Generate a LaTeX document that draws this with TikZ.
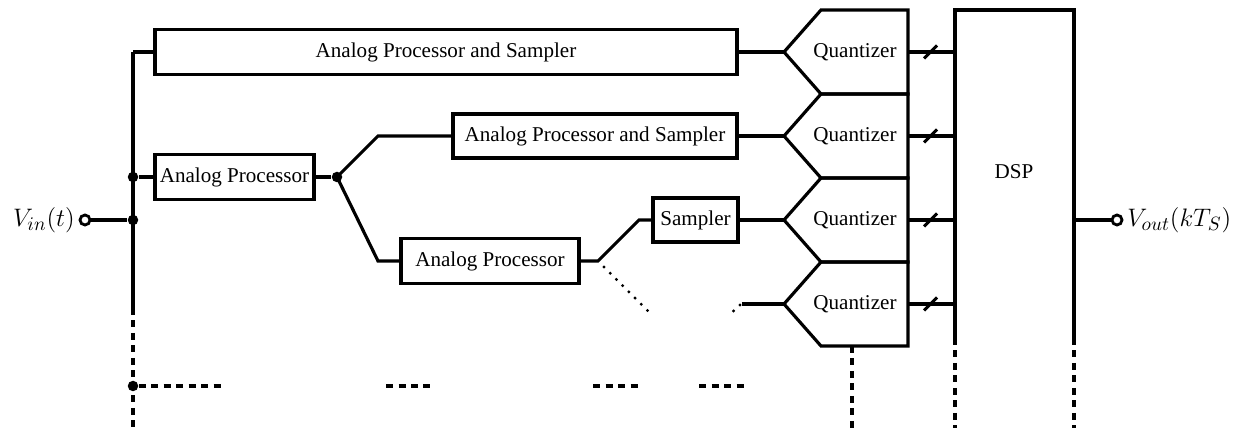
\documentclass[tikz,border=0pt]{standalone}
\usepackage{fontspec}
\setmainfont{Liberation Serif}
\usetikzlibrary{positioning}

\tikzset{
	wire/.style={line width=1.8pt},
	blk/.style={draw, line width=1.8pt, inner sep=0pt, minimum height=0.9cm, font=\fontsize{12}{14}\selectfont},
	lbl/.style={inner sep=0pt, font=\fontsize{12}{14}\selectfont},
	io/.style={inner sep=0pt, font=\fontsize{15.5}{18}\selectfont},
	busdash/.style={line width=1.8pt, dash pattern=on 1.4mm off 1.1mm},
	dotline/.style={line width=1.9pt, line cap=round, dash pattern=on 0pt off 5pt},
	dot/.style={circle, fill, inner sep=0pt, minimum size=2.1mm},
	term/.style={circle, draw, line width=1.6pt, fill=white, inner sep=0pt, minimum size=2mm},
}

\begin{document}
\begin{tikzpicture}[x=0.02cm, y=-0.02cm]
					\useasboundingbox (0,0) rectangle (1247,428);

					\coordinate (top) at (133,52);
					\coordinate (bot) at (133,308);
					\coordinate (end) at (133,428);
					\coordinate (b1) at (378,136);
					\coordinate (b2) at (378,261);
					\coordinate (b3) at (598,261);
					\coordinate (b4) at (639,220);
					\coordinate (dt1) at (604,267);
					\coordinate (dt2) at (653,316);
					\coordinate (dt3) at (728,316);
					\coordinate (dt4) at (740,305);
					\coordinate (stub) at (742,304);
					\coordinate (hd) at (222,386);
					\coordinate (dsptl) at (955,10);
					\coordinate (dsptr) at (1074,10);
					\coordinate (dspbl) at (955,338);
					\coordinate (dspbr) at (1074,338);
					\coordinate (dspo) at (1074,220);

					\node[blk, minimum width=11.64cm] (aps1) at (446,52) {Analog Processor and Sampler};
					\node[blk, minimum width=3.18cm] (ap1) at (234.5,177) {Analog Processor};
					\node[blk, minimum width=5.68cm, minimum height=0.88cm] (aps2) at (595,136) {Analog Processor and Sampler};
					\node[blk, minimum width=3.56cm] (ap2) at (490,261) {Analog Processor};
					\node[blk, minimum width=1.7cm, minimum height=0.88cm] (smp) at (695.5,220) {Sampler};

					\foreach \i/\y in {1/52, 2/136, 3/220, 4/304}{
							\draw[wire] (821,\y-42) -- (908,\y-42) -- (908,\y+42) -- (821,\y+42) -- (784,\y) -- cycle;
							\node[lbl] (q\i) at (855,\y) {Quantizer};
							\coordinate (qin\i) at (784,\y);
							\coordinate (qout\i) at (908,\y);
							\coordinate (dsp\i) at (955,\y);
							\draw[wire] (qout\i) -- (dsp\i);
							\draw[wire] (924,\y+6.5) -- (937,\y-6.5);
						}

					\node[lbl] (dsp) at (1014,172) {DSP};
					\draw[wire] (dspbl) -- (dsptl) -- (dsptr) -- (dspbr);

					\draw[wire] (top) -- (bot);
					\draw[wire] (top) -- (aps1.west);
					\draw[wire] (aps1.east) -- (qin1);

					\node[term] (vin) at (85,220) {};
					\node[io, left=2pt of vin] (vinlbl) {$V_{in}(t)$};
					\node[dot] (d1) at (133,220) {};
					\node[dot] (d2) at (133,177) {};
					\node[dot] (d3) at (337,177) {};
					\node[dot] (d4) at (133,386) {};
					\draw[wire] (vin) -- (d1);

					\draw[wire] (d2) -- (ap1);
					\draw[wire] (ap1) -- (d3);
					\draw[wire] (d3.center) -- (b1) -- (aps2.west);
					\draw[wire] (aps2.east) -- (qin2);
					\draw[wire] (d3.center) -- (b2) -- (ap2.west);
					\draw[wire] (ap2.east) -- (b3) -- (b4) -- (smp.west);
					\draw[wire] (smp.east) -- (qin3);
					\draw[wire] (stub) -- (qin4);
					\draw[dotline] (dt1) -- (dt2);
					\draw[dotline] (dt4) -- (dt3);

					\node[term] (vout) at (1117,220) {};
					\node[io, right=2pt of vout] (voutlbl) {$V_{out}(kT_S)$};
					\draw[wire] (dspo) -- (vout);

					\draw[busdash] (bot) -- (end);
					\draw[busdash] (d4) -- (hd);
					\foreach \a/\b in {386/432, 593/638, 699/745}{
							\draw[busdash] (\a,386) -- (\b,386);
						}
					\draw[busdash] (852,346) -- (852,428);
					\draw[busdash] (dspbl) -- (955,428);
					\draw[busdash] (dspbr) -- (1074,428);
				\end{tikzpicture}
\end{document}
